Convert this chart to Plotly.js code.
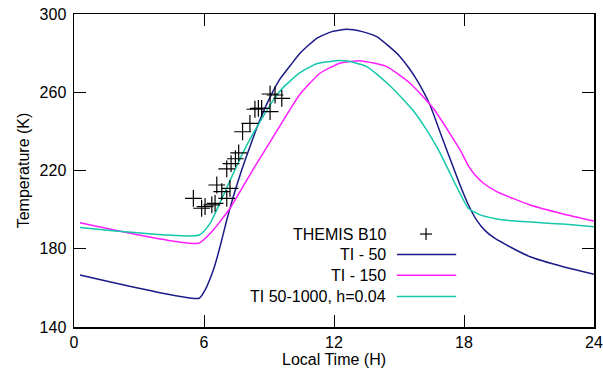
<!DOCTYPE html>
<html>
<head>
<meta charset="utf-8">
<script src="https://cdn.plot.ly/plotly-3.0.1.min.js"></script>
<style>html,body{margin:0;padding:0;background:#fff;}#chart{width:603px;height:373px;}</style>
</head>
<body>
<div id="chart"></div>
<script>
// THEMIS B10 observations
const obsX = [5.51, 5.89, 6.05, 6.36, 6.51, 6.59, 6.82, 7.05, 7.20, 7.05, 7.25, 7.45, 7.60, 7.78, 8.12, 8.35, 8.51, 8.66, 9.05, 9.05, 9.28, 9.59];
const obsY = [205.8, 200.7, 201.5, 202.4, 203.2, 212.6, 209.2, 205.8, 210.9, 220.8, 223.5, 226.0, 229.0, 239.8, 244.1, 251.3, 251.8, 251.8, 250.1, 259.1, 258.6, 256.9];

// TI - 50
const ti50X = [0.28, 5.78, 6.05, 6.43, 6.74, 7.05, 7.35, 7.74, 8.12, 8.58, 9.05, 9.51, 10.0, 10.43, 11.2, 11.9, 12.58, 13.3, 13.97, 14.5, 15.05, 15.45, 15.82, 16.43, 17.0, 17.51, 17.82, 18.2, 18.59, 19.0, 19.4, 20.2, 21.05, 22.58, 24];
const ti50Y = [166.6, 154.7, 158.9, 169.1, 181.0, 194.7, 206.6, 220.3, 232.2, 245.8, 257.5, 266.8, 273.9, 279.9, 287.6, 291.0, 292.2, 291.0, 288.4, 283.8, 278.2, 272.5, 266.3, 253.5, 236.5, 221.5, 212.5, 202.5, 194.5, 189.0, 185.5, 180.5, 175.9, 170.8, 167.0];

// TI - 150
const ti150X = [0.28, 5.74, 6.43, 7.2, 7.89, 8.28, 9.2, 10.05, 10.43, 11.35, 12.3, 13.2, 14.43, 15.51, 16.58, 17.82, 18.2, 18.5, 18.9, 19.51, 21.05, 22.58, 24];
const ti150Y = [193.3, 182.8, 189.6, 200.7, 213.5, 220.8, 237.3, 252.6, 259.0, 269.7, 275.0, 276.1, 273.1, 264.6, 251.8, 230.5, 222.5, 217.8, 213.5, 209.2, 202.4, 197.8, 194.2];

// TI 50-1000, h=0.04
const tiMixX = [0.28, 5.78, 6.28, 6.74, 7.2, 7.51, 7.97, 8.43, 9.2, 9.66, 10.43, 11.2, 12.28, 13.0, 13.51, 14.0, 14.58, 15.1, 15.66, 16.2, 16.82, 17.28, 17.66, 18.2, 18.74, 19.4, 20.2, 22.58, 24];
const tiMixY = [190.8, 187.0, 193.0, 203.5, 214.8, 222.3, 232.8, 242.0, 256.0, 262.5, 270.0, 274.6, 276.2, 275.0, 273.1, 269.0, 263.3, 257.5, 250.5, 242.0, 230.5, 220.3, 211.7, 200.7, 197.3, 195.5, 194.3, 192.6, 191.3];

const names = ["THEMIS B10", "TI - 50", "TI - 150", "TI 50-1000, h=0.04"];
const colors = ["#000000", "#1a1a88", "#ff1cff", "#14c8aa"];
const xTicks = [0, 6, 12, 18, 24];
const yTicks = [140, 180, 220, 260, 300];

const FONT = "Liberation Sans, Arial, Helvetica, sans-serif";

const lineTrace = (x, y, i) => ({
  x: x, y: y, type: "scatter", mode: "lines", name: names[i],
  line: {color: colors[i], width: 1.5, shape: "spline", smoothing: 0.5},
  showlegend: false, hoverinfo: "skip"
});

const traces = [
  lineTrace(ti50X, ti50Y, 1),
  lineTrace(ti150X, ti150Y, 2),
  lineTrace(tiMixX, tiMixY, 3),
  {x: obsX, y: obsY, type: "scatter", mode: "markers", name: names[0],
   marker: {symbol: "cross-thin-open", size: 12, color: "#000", line: {color: "#000", width: 1.2}},
   showlegend: false, hoverinfo: "skip"}
];

// legend drawn gnuplot-style (label left, sample right)
const rowsY = [0.297, 0.232, 0.165, 0.0974];
const annotations = names.map((n, i) => ({
  text: n, xref: "paper", yref: "paper", x: 0.604, y: rowsY[i],
  xanchor: "right", yanchor: "middle", showarrow: false,
  font: {family: FONT, size: 16, color: "#000"}
}));
const shapes = [];
for (let i = 1; i < 4; i++) {
  shapes.push({type: "line", xref: "paper", yref: "paper", x0: 0.621, x1: 0.735, y0: rowsY[i], y1: rowsY[i],
    line: {color: colors[i], width: 1.5}});
}
shapes.push({type: "line", xref: "paper", yref: "paper", x0: 0.6655, x1: 0.6885, y0: rowsY[0], y1: rowsY[0], line: {color: "#000", width: 1.2}});
shapes.push({type: "line", xref: "paper", yref: "paper", x0: 0.677, x1: 0.677, y0: rowsY[0] - 0.019, y1: rowsY[0] + 0.019, line: {color: "#000", width: 1.2}});

const axisCommon = {
  showgrid: false, zeroline: false, showline: true, linecolor: "#000", linewidth: 1.5,
  mirror: "ticks", ticks: "inside", ticklen: 12, tickwidth: 1, tickcolor: "#000",
  tickfont: {family: FONT, size: 16, color: "#000"}
};

const layout = {
  width: 603, height: 373,
  margin: {l: 74, r: 9, t: 14, b: 46},
  paper_bgcolor: "#fff", plot_bgcolor: "#fff",
  font: {family: FONT, size: 16, color: "#000"},
  xaxis: Object.assign({}, axisCommon, {
    range: [0, 24], tickvals: xTicks, ticktext: xTicks.map(String),
    title: {text: "Local Time (H)", font: {family: FONT, size: 16, color: "#000"}, standoff: 3}
  }),
  yaxis: Object.assign({}, axisCommon, {
    range: [140, 300], tickvals: yTicks, ticktext: yTicks.map(String), ticklabelstandoff: 3,
    title: {text: "Temperature (K)", font: {family: FONT, size: 16, color: "#000"}, standoff: 6}
  }),
  annotations: annotations,
  shapes: shapes,
  showlegend: false
};

Plotly.newPlot("chart", traces, layout, {staticPlot: true, displayModeBar: false});
</script>
</body>
</html>
